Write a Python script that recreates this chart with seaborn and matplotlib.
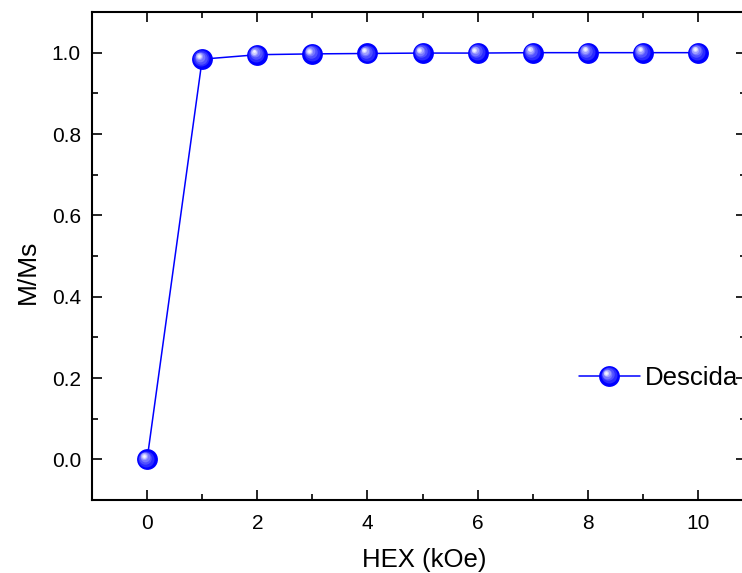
import matplotlib
matplotlib.use("Agg")
import matplotlib.pyplot as plt
from matplotlib.transforms import offset_copy
from matplotlib.lines import Line2D
from matplotlib.legend_handler import HandlerLine2D
import seaborn as sns
import pandas as pd
import numpy as np

hex_koe = [0, 1, 2, 3, 4, 5, 6, 7, 8, 9, 10]
m_ms = [0.0, 0.984, 0.995, 0.997, 0.998, 0.999, 0.999, 1.0, 1.0, 1.0, 1.0]
series_name = "Descida"

sns.set_theme(style="ticks")
plt.rcParams['font.family'] = ['Liberation Sans', 'DejaVu Sans']
plt.rcParams['text.color'] = 'black'
plt.rcParams['axes.labelcolor'] = 'black'
plt.rcParams['xtick.color'] = 'black'
plt.rcParams['ytick.color'] = 'black'

df = pd.DataFrame({"HEX (kOe)": hex_koe, "M/Ms": m_ms})

fig = plt.figure(figsize=(7.42, 5.73), dpi=100)
ax = fig.add_axes([92/742, 73/573, 654/742, 488/573])

blue = "#0000ff"
ms_main = 15
sns.lineplot(data=df, x="HEX (kOe)", y="M/Ms", ax=ax, color=blue, lw=1.1,
             marker="o", markersize=ms_main, markeredgewidth=0, markerfacecolor=blue,
             zorder=3)

# sphere shading highlight (offsets in points)
shades = [("#2a2aff", 11.5, -0.6, 0.6), ("#5050ff", 9.0, -1.2, 1.2),
          ("#7878ff", 7.0, -1.8, 1.8), ("#a0a0ff", 5.2, -2.1, 2.1),
          ("#d0d0ff", 3.6, -2.3, 2.3), ("#f4f4ff", 2.0, -2.4, 2.4)]
for col, ms, dx, dy in shades:
    tr = offset_copy(ax.transData, fig=fig, x=dx, y=dy, units='points')
    ax.plot(hex_koe, m_ms, ls='none', marker='o', ms=ms, mew=0, mfc=col,
            transform=tr, zorder=4)


class SphereHandler(HandlerLine2D):
    def create_artists(self, legend, orig_handle, xdescent, ydescent, width,
                       height, fontsize, trans):
        artists = super().create_artists(legend, orig_handle, xdescent, ydescent,
                                         width, height, fontsize, trans)
        xc = -xdescent + 0.5 * width
        yc = (height - ydescent) / 2
        extra = []
        for col, ms, dx, dy in shades:
            extra.append(Line2D([xc + dx], [yc + dy], ls='none', marker='o', ms=ms,
                                mew=0, mfc=col, transform=trans))
        return list(artists) + extra


ax.set_xlim(-1, 10.87)
ax.set_ylim(-0.1, 1.1)
ax.set_xticks(range(0, 11, 2))
ax.set_xticks(range(1, 11, 2), minor=True)
yt = np.arange(0, 1.01, 0.2)
ax.set_yticks(yt)
ax.set_yticks(np.arange(0.1, 1.1, 0.2), minor=True)
ax.set_yticklabels([f"{v:.1f}" for v in yt])

ax.tick_params(which='both', direction='in', top=True, right=True, width=1.2,
               colors='black', labelsize=15)
ax.tick_params(which='major', length=7)
ax.tick_params(which='minor', length=4)
ax.tick_params(axis='x', pad=10)
ax.tick_params(axis='y', pad=8)
for s in ax.spines.values():
    s.set_linewidth(1.5)
    s.set_color('black')

ax.set_xlabel("HEX (kOe)", fontsize=18.5, color='black')
ax.set_ylabel("M/Ms", fontsize=19, color='black')
ax.xaxis.set_label_coords(0.508, -0.098)
ax.yaxis.set_label_coords(-0.079, 0.467)

# legend
h_base = Line2D([], [], color=blue, lw=1.1, marker='o', ms=ms_main, mew=0, mfc=blue)
leg = ax.legend([h_base], [series_name], loc='center right',
                bbox_to_anchor=(738/742, (573-378)/573), bbox_transform=fig.transFigure,
                frameon=False, fontsize=18.5, handlelength=2.35, handletextpad=0.2,
                borderaxespad=0, borderpad=0,
                handler_map={Line2D: SphereHandler()})
for t in leg.get_texts():
    t.set_color('black')

fig.savefig("out.png", dpi=100)
